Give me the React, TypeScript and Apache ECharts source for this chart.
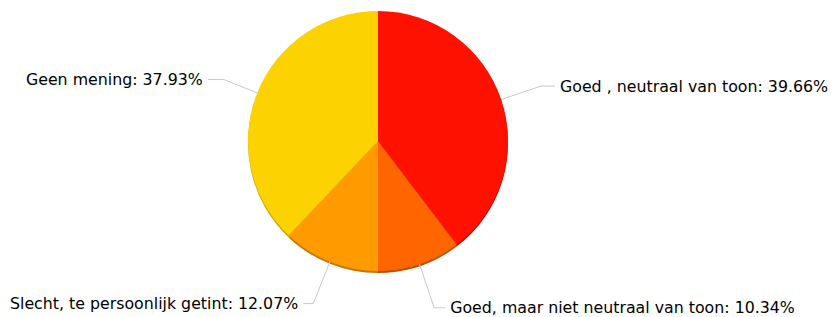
import React, { useEffect, useRef } from "react";
import * as echarts from "echarts";

const categories = [
  "Goed , neutraal van toon",
  "Goed, maar niet neutraal van toon",
  "Slecht, te persoonlijk getint",
  "Geen mening",
];
const counts = [23, 6, 7, 22];
const colors = ["#FF1100", "#FF6600", "#FF9A00", "#FCD200"];
const shadeColors = ["#C40D00", "#C04C00", "#C27500", "#C9A400"];
const lineLengths = [42, 46, 45, 36];
const lineLengths2 = [14, 11, 10, 16];

export default function App() {
  const ref = useRef<HTMLDivElement>(null);
  useEffect(() => {
    if (!ref.current) return;
    const chart = echarts.init(ref.current, undefined, { renderer: "svg" });
    const data = categories.map((c, i) => ({
      name: c,
      value: counts[i],
      itemStyle: { color: colors[i] },
      labelLine: { length: lineLengths[i], length2: lineLengths2[i] },
    }));
    const shade = categories.map((c, i) => ({
      name: c,
      value: counts[i],
      itemStyle: { color: shadeColors[i] },
    }));
    chart.setOption({
      animation: false,
      backgroundColor: "#ffffff",
      series: [
        {
          type: "pie",
          silent: true,
          center: [378, 143],
          radius: 130,
          startAngle: 90,
          clockwise: true,
          label: { show: false },
          labelLine: { show: false },
          data: shade,
          z: 1,
        },
        {
          type: "pie",
          center: [378, 141],
          radius: 130,
          startAngle: 90,
          clockwise: true,
          avoidLabelOverlap: false,
          itemStyle: { borderWidth: 0 },
          label: {
            formatter: "{b}: {d}%",
            fontFamily: "DejaVu Sans",
            fontSize: 15.8,
            color: "#000000",
            distanceToLabelLine: 5,
          },
          labelLine: {
            length: 42,
            length2: 11,
            lineStyle: { color: "#c8c8c8", width: 1 },
          },
          data,
          z: 2,
        },
      ],
    });
    return () => chart.dispose();
  }, []);
  return (
    <div
      ref={ref}
      style={{ position: "fixed", left: 0, top: 0, width: 831, height: 317 }}
    />
  );
}
